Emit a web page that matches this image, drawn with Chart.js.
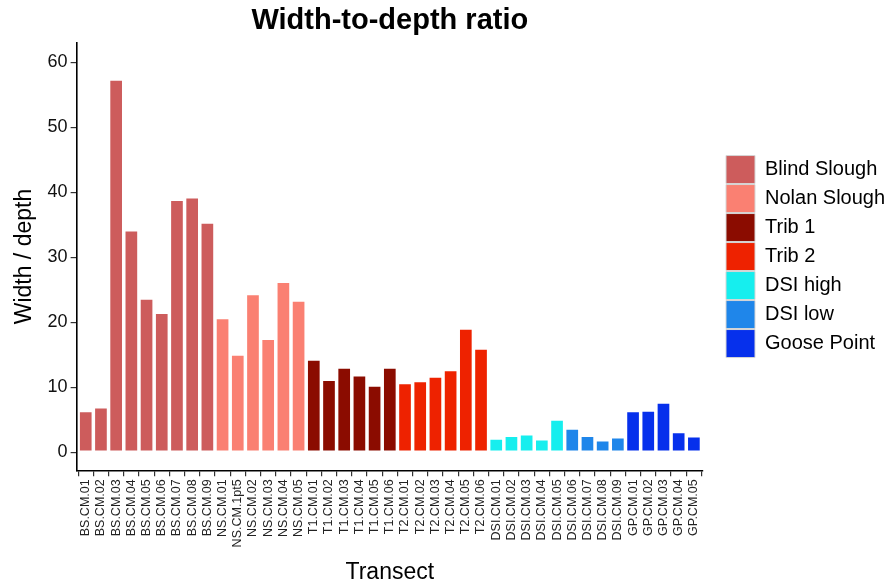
<!DOCTYPE html>
<html>
<head>
<meta charset="utf-8">
<script src="https://cdn.jsdelivr.net/npm/chart.js@4/dist/chart.umd.min.js"></script>
<style>
  html, body { margin: 0; padding: 0; background: #fff; }
  #wrap { width: 886px; height: 586px; }
</style>
</head>
<body>
<div id="wrap"><canvas id="c" width="886" height="586"></canvas></div>
<script>
// Transects along the x axis
const categories = [
  'BS.CM.01','BS.CM.02','BS.CM.03','BS.CM.04','BS.CM.05','BS.CM.06','BS.CM.07','BS.CM.08','BS.CM.09',
  'NS.CM.01','NS.CM.1pt5','NS.CM.02','NS.CM.03','NS.CM.04','NS.CM.05',
  'T1.CM.01','T1.CM.02','T1.CM.03','T1.CM.04','T1.CM.05','T1.CM.06',
  'T2.CM.01','T2.CM.02','T2.CM.03','T2.CM.04','T2.CM.05','T2.CM.06',
  'DSI.CM.01','DSI.CM.02','DSI.CM.03','DSI.CM.04','DSI.CM.05','DSI.CM.06','DSI.CM.07','DSI.CM.08','DSI.CM.09',
  'GP.CM.01','GP.CM.02','GP.CM.03','GP.CM.04','GP.CM.05'
];

// Width / depth ratio for each transect
const values = [
  6.3, 6.85, 57.3, 34.1, 23.6, 21.4, 38.8, 39.2, 35.3,
  20.6, 15.0, 24.3, 17.4, 26.2, 23.3,
  14.2, 11.1, 13.0, 11.8, 10.2, 13.0,
  10.6, 10.9, 11.6, 12.6, 19.0, 15.9,
  2.05, 2.5, 2.7, 1.95, 5.0, 3.6, 2.5, 1.8, 2.25,
  6.3, 6.35, 7.6, 3.05, 2.4
];

// Site each transect belongs to
const sites = [
  'Blind Slough','Blind Slough','Blind Slough','Blind Slough','Blind Slough','Blind Slough','Blind Slough','Blind Slough','Blind Slough',
  'Nolan Slough','Nolan Slough','Nolan Slough','Nolan Slough','Nolan Slough','Nolan Slough',
  'Trib 1','Trib 1','Trib 1','Trib 1','Trib 1','Trib 1',
  'Trib 2','Trib 2','Trib 2','Trib 2','Trib 2','Trib 2',
  'DSI high','DSI high','DSI high','DSI high','DSI high','DSI low','DSI low','DSI low','DSI low',
  'Goose Point','Goose Point','Goose Point','Goose Point','Goose Point'
];

const siteNames  = ['Blind Slough','Nolan Slough','Trib 1','Trib 2','DSI high','DSI low','Goose Point'];
const siteColors = ['#CD5C5C','#FA8072','#8B0C00','#EE2200','#16EEEE','#1F86EA','#0630EC'];

const yTicks = [0, 10, 20, 30, 40, 50, 60];

const FONT = "'Liberation Sans', Arial, Helvetica, sans-serif";
const LEGEND_GAP = 22; // space between the panel and the legend

const datasets = siteNames.map((name, k) => ({
  label: name,
  data: categories
    .map((c, i) => ({ x: i, y: values[i], site: sites[i] }))
    .filter(p => p.site === name),
  backgroundColor: siteColors[k],
  borderColor: 'rgba(255,255,255,0.45)',
  borderWidth: 1,
  borderSkipped: false,
  categoryPercentage: 1.0,
  barPercentage: 0.9,
  grouped: false
}));

// Reserve the gap via right padding, then slide the legend into it.
const legendGap = {
  id: 'legendGap',
  afterLayout(chart) {
    if (chart.legend) {
      chart.legend.left += LEGEND_GAP;
      chart.legend.right += LEGEND_GAP;
    }
  }
};

new Chart(document.getElementById('c'), {
  type: 'bar',
  data: { datasets },
  plugins: [legendGap],
  options: {
    responsive: false,
    animation: false,
    devicePixelRatio: 1,
    layout: { padding: { left: 11, right: LEGEND_GAP, top: 2, bottom: 0 } },
    plugins: {
      tooltip: { enabled: false },
      title: {
        display: true,
        text: 'Width-to-depth ratio',
        fullSize: false,
        color: '#000',
        font: { family: FONT, size: 29, weight: 'bold' },
        padding: { top: 2, bottom: 4 }
      },
      legend: {
        position: 'right',
        align: 'center',
        fullSize: false,
        maxWidth: 161,
        labels: {
          boxWidth: 29,
          boxHeight: 28,
          padding: 1,
          color: '#000',
          font: { family: FONT, size: 20 },
          generateLabels: (chart) => {
            const items = Chart.defaults.plugins.legend.labels.generateLabels(chart);
            items.forEach(it => { it.strokeStyle = '#d6d6d6'; it.lineWidth = 1; });
            return items;
          }
        }
      }
    },
    scales: {
      x: {
        type: 'linear',
        min: -0.6,
        max: 40.6,
        offset: false,
        afterBuildTicks: (s) => { s.ticks = categories.map((_, i) => ({ value: i })); },
        ticks: {
          autoSkip: false,
          maxRotation: 90,
          minRotation: 90,
          padding: 3,
          color: '#222',
          font: { family: FONT, size: 12.5 },
          callback: (v) => categories[v]
        },
        grid: { drawOnChartArea: false, drawTicks: true, tickLength: 6, color: '#333', lineWidth: 1.2 },
        border: { display: true, color: '#000', width: 1.6 },
        title: {
          display: true,
          text: 'Transect',
          color: '#000',
          font: { family: FONT, size: 23 },
          padding: { top: 8, bottom: 0 }
        }
      },
      y: {
        min: -2.8,
        max: 63,
        afterBuildTicks: (s) => { s.ticks = yTicks.map(v => ({ value: v })); },
        ticks: {
          padding: 3,
          color: '#111',
          font: { family: FONT, size: 18 }
        },
        grid: { drawOnChartArea: false, drawTicks: true, tickLength: 6, color: '#333', lineWidth: 1.2 },
        border: { display: true, color: '#000', width: 1.6 },
        title: {
          display: true,
          text: 'Width / depth',
          color: '#000',
          font: { family: FONT, size: 23 },
          padding: { top: 0, bottom: 6 }
        }
      }
    }
  }
});
</script>
</body>
</html>
